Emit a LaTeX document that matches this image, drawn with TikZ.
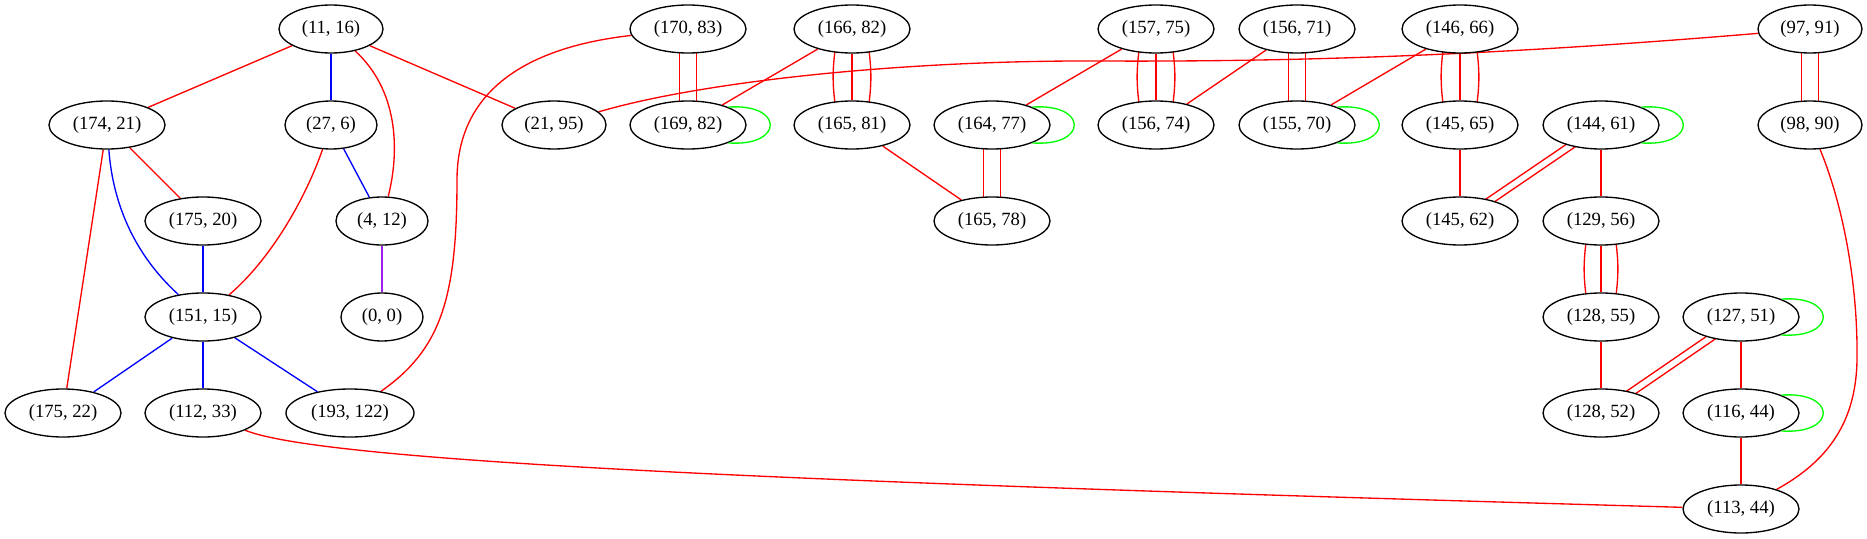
\documentclass[tikz,border=0pt]{standalone}
\usepackage{fontspec}
\setmainfont{Liberation Serif}
\usetikzlibrary{shapes.geometric}
\pgfdeclarelayer{background}
\pgfsetlayers{background,main}
\definecolor{gred}{RGB}{255,0,0}
\definecolor{gblue}{RGB}{0,0,255}
\definecolor{ggreen}{RGB}{0,255,0}
\definecolor{gpurple}{RGB}{160,32,240}
\begin{document}
\begin{tikzpicture}[x=0.75pt,y=-0.75pt,
  gn/.style={draw=black, ellipse, line width=1pt, fill=white, inner sep=0pt,
             minimum height=36pt, font=\fontsize{14}{16}\selectfont},
  wB/.style={minimum width=78pt},
  wD/.style={minimum width=87pt},
  wS/.style={minimum width=69pt},
  wZ/.style={minimum width=61.5pt},
  wL/.style={minimum width=96pt},
  re/.style={draw=gred, line width=1pt},
  be/.style={draw=gblue, line width=1pt},
  pe/.style={draw=gpurple, line width=1pt},
  ge/.style={draw=ggreen, line width=1pt}]
\useasboundingbox (0,0) rectangle (1867,539);

% nodes
\node[gn,wB] (a1116)   at (331,29)   {(11, 16)};
\node[gn,wD] (a17421)  at (107,125)  {(174, 21)};
\node[gn,wS] (a276)    at (331,125)  {(27, 6)};
\node[gn,wB] (a2195)   at (554,125)  {(21, 95)};
\node[gn,wD] (a17520)  at (203,221)  {(175, 20)};
\node[gn,wS] (a412)    at (382,221)  {(4, 12)};
\node[gn,wD] (a15115)  at (203,317)  {(151, 15)};
\node[gn,wZ] (a00)     at (382,317)  {(0, 0)};
\node[gn,wD] (a17522)  at (63,413)   {(175, 22)};
\node[gn,wD] (a11233)  at (203,413)  {(112, 33)};
\node[gn,wL] (a193122) at (350,413)  {(193, 122)};
\node[gn,wD] (a17083)  at (688,29)   {(170, 83)};
\node[gn,wD] (a16682)  at (852,29)   {(166, 82)};
\node[gn,wD] (a15775)  at (1156,29)  {(157, 75)};
\node[gn,wD] (a16982)  at (688,125)  {(169, 82)};
\node[gn,wD] (a16581)  at (852,125)  {(165, 81)};
\node[gn,wD] (a16477)  at (992,125)  {(164, 77)};
\node[gn,wD] (a15674)  at (1156,125) {(156, 74)};
\node[gn,wD] (a16578)  at (992,221)  {(165, 78)};
\node[gn,wD] (a15671)  at (1297,29)  {(156, 71)};
\node[gn,wD] (a14666)  at (1460,29)  {(146, 66)};
\node[gn,wB] (a9791)   at (1810,29)  {(97, 91)};
\node[gn,wD] (a15570)  at (1297,125) {(155, 70)};
\node[gn,wD] (a14565)  at (1460,125) {(145, 65)};
\node[gn,wD] (a14461)  at (1601,125) {(144, 61)};
\node[gn,wB] (a9890)   at (1810,125) {(98, 90)};
\node[gn,wD] (a14562)  at (1460,221) {(145, 62)};
\node[gn,wD] (a12956)  at (1601,221) {(129, 56)};
\node[gn,wD] (a12855)  at (1601,317) {(128, 55)};
\node[gn,wD] (a12751)  at (1741,317) {(127, 51)};
\node[gn,wD] (a12852)  at (1601,413) {(128, 52)};
\node[gn,wD] (a11644)  at (1741,413) {(116, 44)};
\node[gn,wD] (a11344)  at (1741,509) {(113, 44)};

\begin{pgfonlayer}{background}
% left cluster
\draw[re] (a1116) -- (a17421);
\draw[be] (a1116) -- (a276);
\draw[re] (a1116) .. controls (398,90) and (400,150) .. (a412);
\draw[re] (a1116) -- (a2195);
\draw[re] (a17421) -- (a17520);
\draw[be] (a17421) .. controls (113,205) and (135,255) .. (a15115);
\draw[re] (a17421) -- (a17522);
\draw[be] (a276) -- (a412);
\draw[re] (a276) .. controls (305,200) and (270,260) .. (a15115);
\draw[be] (a17520) -- (a15115);
\draw[pe] (a412) -- (a00);
\draw[be] (a15115) -- (a17522);
\draw[be] (a15115) -- (a11233);
\draw[be] (a15115) -- (a193122);
\draw[re] (a17083) .. controls (520,48) and (457,95) .. (457,180)
          .. controls (457,300) and (440,350) .. (a193122);
\draw[re] (a9791) .. controls (1500,55) and (1300,62) .. (1100,61)
          .. controls (900,60) and (700,82) .. (a2195);
\draw[re] (a11233) .. controls (330,465) and (900,485) .. (a11344);
\draw[re] (a9890) .. controls (1845,210) and (1858,290) .. (1857,360)
          .. controls (1856,420) and (1830,460) .. (a11344);

% double vertical edges
\draw[re] ([shift={(-8.4,0)}]a17083.center) -- ([shift={(-8.4,0)}]a16982.center);
\draw[re] ([shift={(8.4,0)}]a17083.center) -- ([shift={(8.4,0)}]a16982.center);
\draw[re] ([shift={(-8.4,0)}]a16477.center) -- ([shift={(-8.4,0)}]a16578.center);
\draw[re] ([shift={(8.4,0)}]a16477.center) -- ([shift={(8.4,0)}]a16578.center);
\draw[re] ([shift={(-8.4,0)}]a15671.center) -- ([shift={(-8.4,0)}]a15570.center);
\draw[re] ([shift={(8.4,0)}]a15671.center) -- ([shift={(8.4,0)}]a15570.center);
\draw[re] ([shift={(-8.4,0)}]a9791.center) -- ([shift={(-8.4,0)}]a9890.center);
\draw[re] ([shift={(8.4,0)}]a9791.center) -- ([shift={(8.4,0)}]a9890.center);

% triple vertical edges
\draw[re] (a16682) -- (a16581);
\draw[re] ([shift={(-17,-3)}]a16682.south) to[bend right=7] ([shift={(-17,3)}]a16581.north);
\draw[re] ([shift={(17,-3)}]a16682.south) to[bend left=7] ([shift={(17,3)}]a16581.north);
\draw[re] (a15775) -- (a15674);
\draw[re] ([shift={(-17,-3)}]a15775.south) to[bend right=7] ([shift={(-17,3)}]a15674.north);
\draw[re] ([shift={(17,-3)}]a15775.south) to[bend left=7] ([shift={(17,3)}]a15674.north);
\draw[re] (a14666) -- (a14565);
\draw[re] ([shift={(-17,-3)}]a14666.south) to[bend right=7] ([shift={(-17,3)}]a14565.north);
\draw[re] ([shift={(17,-3)}]a14666.south) to[bend left=7] ([shift={(17,3)}]a14565.north);
\draw[re] (a12956) -- (a12855);
\draw[re] ([shift={(-15,-3)}]a12956.south) to[bend right=7] ([shift={(-15,3)}]a12855.north);
\draw[re] ([shift={(15,-3)}]a12956.south) to[bend left=7] ([shift={(15,3)}]a12855.north);

% diagonal double edges
\draw[re] ([shift={(-6.3,0)}]a14461.center) -- ([shift={(-6.3,0)}]a14562.center);
\draw[re] ([shift={(6.3,0)}]a14461.center) -- ([shift={(6.3,0)}]a14562.center);
\draw[re] ([shift={(-6.3,0)}]a12751.center) -- ([shift={(-6.3,0)}]a12852.center);
\draw[re] ([shift={(6.3,0)}]a12751.center) -- ([shift={(6.3,0)}]a12852.center);

% single edges, middle / right
\draw[re] (a16682) -- (a16982);
\draw[re] (a16581) -- (a16578);
\draw[re] (a15775) -- (a16477);
\draw[re] (a15671) -- (a15674);
\draw[re] (a14666) -- (a15570);
\draw[re] (a14565) -- (a14562);
\draw[re] (a14461) -- (a12956);
\draw[re] (a12855) -- (a12852);
\draw[re] (a12751) -- (a11644);
\draw[re] (a11644) -- (a11344);
\end{pgfonlayer}

% self loops
\draw[ge] (a16982.24) .. controls +(56,-4) and +(56,4) .. (a16982.-24);
\draw[ge] (a16477.24) .. controls +(56,-4) and +(56,4) .. (a16477.-24);
\draw[ge] (a15570.24) .. controls +(56,-4) and +(56,4) .. (a15570.-24);
\draw[ge] (a14461.24) .. controls +(56,-4) and +(56,4) .. (a14461.-24);
\draw[ge] (a12751.24) .. controls +(56,-4) and +(56,4) .. (a12751.-24);
\draw[ge] (a11644.24) .. controls +(56,-4) and +(56,4) .. (a11644.-24);
\end{tikzpicture}
\end{document}
